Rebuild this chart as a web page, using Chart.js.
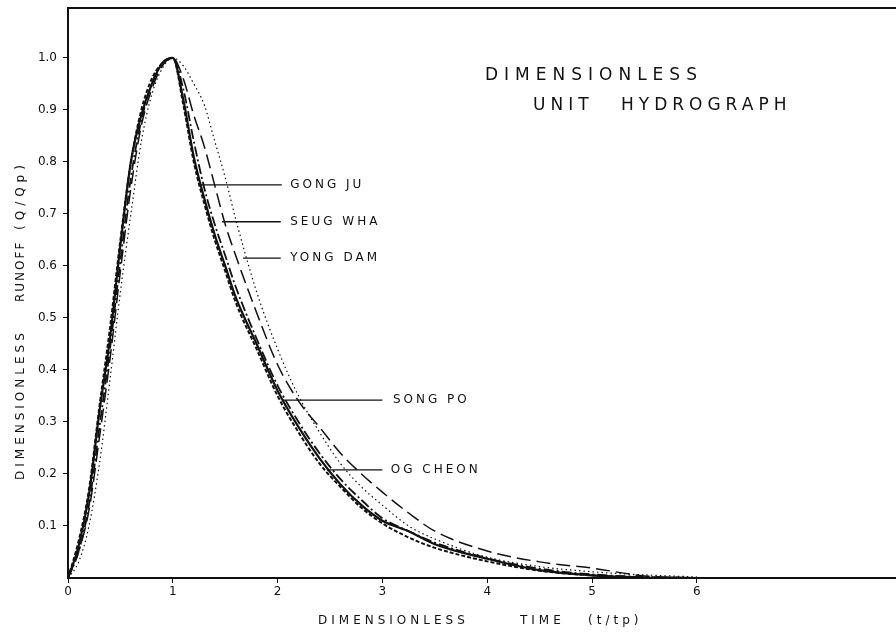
<!DOCTYPE html>
<html lang="en">
<head>
<meta charset="UTF-8">
<title>Dimensionless Unit Hydrograph</title>
<script src="https://cdn.jsdelivr.net/npm/chart.js"></script>
<style>
    body { margin: 0; background: #fff; }
    #wrap { width: 896px; height: 637px; }
</style>
</head>
<body>
<div id="wrap"><canvas id="hydroChart" width="896" height="637"></canvas></div>
<script>
    // dimensionless time t/tp
    const timeSteps = [0, 0.1, 0.2, 0.3, 0.4, 0.5, 0.6, 0.7, 0.8, 0.9, 1.0, 1.1, 1.2, 1.3, 1.4, 1.5, 1.6, 1.8, 2.0, 2.2, 2.4, 2.6, 2.8, 3.0, 3.25, 3.5, 4.0, 4.5, 5.0, 5.5, 6.0];

    // dimensionless runoff Q/Qp for each station
    const gongJu  = [0, 0.06, 0.16, 0.32, 0.46, 0.64, 0.80, 0.89, 0.95, 0.99, 1.0, 0.92, 0.81, 0.73, 0.66, 0.60, 0.54, 0.45, 0.36, 0.29, 0.23, 0.18, 0.14, 0.11, 0.09, 0.065, 0.037, 0.015, 0.005, 0.001, 0];
    const seugWha = [0, 0.05, 0.13, 0.27, 0.42, 0.59, 0.75, 0.87, 0.94, 0.985, 1.0, 0.96, 0.89, 0.83, 0.755, 0.68, 0.62, 0.51, 0.41, 0.34, 0.29, 0.24, 0.20, 0.165, 0.125, 0.09, 0.052, 0.031, 0.019, 0.004, 0];
    const yongDam = [0, 0.03, 0.10, 0.22, 0.38, 0.55, 0.70, 0.84, 0.93, 0.98, 1.0, 0.985, 0.95, 0.91, 0.84, 0.77, 0.69, 0.55, 0.44, 0.35, 0.28, 0.22, 0.175, 0.14, 0.10, 0.075, 0.04, 0.022, 0.012, 0.006, 0.002];
    const songPo  = [0, 0.05, 0.14, 0.29, 0.44, 0.61, 0.77, 0.88, 0.95, 0.99, 1.0, 0.94, 0.84, 0.75, 0.68, 0.62, 0.56, 0.46, 0.37, 0.30, 0.24, 0.19, 0.15, 0.115, 0.09, 0.068, 0.038, 0.018, 0.007, 0.002, 0];
    const ogCheon = [0, 0.07, 0.17, 0.33, 0.48, 0.65, 0.80, 0.90, 0.96, 0.99, 1.0, 0.91, 0.80, 0.72, 0.65, 0.59, 0.53, 0.44, 0.35, 0.28, 0.22, 0.175, 0.135, 0.105, 0.078, 0.058, 0.032, 0.014, 0.005, 0.001, 0];

    const xTicks = [0, 1, 2, 3, 4, 5, 6];
    const yTicks = [0.1, 0.2, 0.3, 0.4, 0.5, 0.6, 0.7, 0.8, 0.9, 1.0];
    const stationNames = ['GONG JU', 'SEUG WHA', 'YONG DAM', 'SONG PO', 'OG CHEON'];

    // leader lines, in data units: level, start t, end t, text t
    const leaders = [
        { v: 0.756, t0: 1.26, t1: 2.04, tx: 2.12 },
        { v: 0.685, t0: 1.47, t1: 2.03, tx: 2.12 },
        { v: 0.615, t0: 1.67, t1: 2.03, tx: 2.12 },
        { v: 0.342, t0: 2.05, t1: 3.00, tx: 3.10 },
        { v: 0.208, t0: 2.47, t1: 3.00, tx: 3.08 }
    ];

    const FONT = "'DejaVu Sans', sans-serif";
    const INK = '#111';

    function toPoints(values) {
        return timeSteps.map((t, i) => ({ x: t, y: values[i] }));
    }

    function series(label, values, dash, width) {
        return {
            label: label,
            data: toPoints(values),
            borderColor: INK,
            borderWidth: width,
            borderDash: dash,
            pointRadius: 0,
            fill: false,
            cubicInterpolationMode: 'monotone'
        };
    }

    // draws the frame top, leader lines, station names and titles
    const annotations = {
        id: 'annotations',
        afterDatasetsDraw(chart) {
            const ctx = chart.ctx;
            const xs = chart.scales.x;
            const ys = chart.scales.y;
            const area = chart.chartArea;
            ctx.save();
            ctx.strokeStyle = INK;
            ctx.fillStyle = INK;

            // top frame line
            ctx.lineWidth = 2;
            ctx.beginPath();
            ctx.moveTo(area.left, area.top);
            ctx.lineTo(area.right, area.top);
            ctx.stroke();

            // leaders + names
            ctx.lineWidth = 1.3;
            ctx.font = '12px ' + FONT;
            ctx.letterSpacing = '3px';
            ctx.textBaseline = 'middle';
            leaders.forEach((l, i) => {
                const py = ys.getPixelForValue(l.v);
                ctx.beginPath();
                ctx.moveTo(xs.getPixelForValue(l.t0), py);
                ctx.lineTo(xs.getPixelForValue(l.t1), py);
                ctx.stroke();
                ctx.fillText(stationNames[i], xs.getPixelForValue(l.tx), py);
            });

            // chart title
            ctx.font = '17px ' + FONT;
            ctx.letterSpacing = '6px';
            ctx.fillText('DIMENSIONLESS', 485, 76);
            ctx.letterSpacing = '5px';
            ctx.fillText('UNIT', 533, 106);
            ctx.fillText('HYDROGRAPH', 621, 106);

            // axis titles
            ctx.font = '12px ' + FONT;
            ctx.letterSpacing = '4px';
            ctx.fillText('DIMENSIONLESS', 318, 621);
            ctx.fillText('TIME', 520, 621);
            ctx.fillText('(t/tp)', 588, 621);
            ctx.translate(21, 0);
            ctx.rotate(-Math.PI / 2);
            ctx.fillText('DIMENSIONLESS', -480, 0);
            ctx.letterSpacing = '2px';
            ctx.fillText('RUNOFF', -302, 0);
            ctx.letterSpacing = '5px';
            ctx.fillText('(Q/Qp)', -230, 0);
            ctx.restore();
        }
    };

    new Chart(document.getElementById('hydroChart'), {
        type: 'line',
        data: {
            datasets: [
                series('GONG JU', gongJu, [], 2.2),
                series('SEUG WHA', seugWha, [14, 6], 1.5),
                series('YONG DAM', yongDam, [1.5, 3], 1.2),
                series('SONG PO', songPo, [10, 3, 2, 3], 1.8),
                series('OG CHEON', ogCheon, [4, 2], 2)
            ]
        },
        options: {
            responsive: false,
            animation: false,
            layout: { padding: { top: 8, right: 0, left: 0, bottom: 0 } },
            plugins: {
                legend: { display: false },
                tooltip: { enabled: false }
            },
            scales: {
                x: {
                    type: 'linear',
                    min: 0,
                    max: 7.9,
                    afterBuildTicks: s => { s.ticks = xTicks.map(v => ({ value: v })); },
                    afterFit: s => { s.height = 59; s.paddingLeft = 0; s.paddingRight = 0; },
                    border: { color: INK, width: 2 },
                    grid: { drawOnChartArea: false, tickLength: 5, color: INK },
                    ticks: { color: INK, font: { family: FONT, size: 12 }, padding: 2, maxRotation: 0 }
                },
                y: {
                    type: 'linear',
                    min: 0,
                    max: 1.096,
                    afterBuildTicks: s => { s.ticks = yTicks.map(v => ({ value: v })); },
                    afterFit: s => { s.width = 68; s.paddingTop = 0; s.paddingBottom = 0; },
                    border: { color: INK, width: 2 },
                    grid: { drawOnChartArea: false, tickLength: 5, color: INK },
                    ticks: {
                        color: INK,
                        font: { family: FONT, size: 12 },
                        padding: 6,
                        callback: v => v.toFixed(1)
                    }
                }
            }
        },
        plugins: [annotations]
    });
</script>
</body>
</html>
